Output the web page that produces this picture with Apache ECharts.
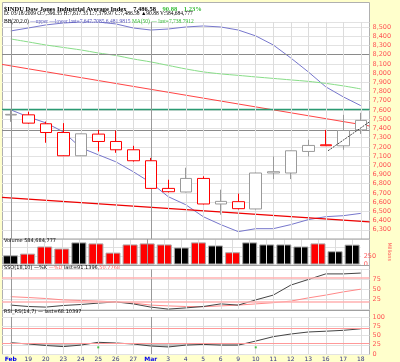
<!DOCTYPE html>
<html><head><meta charset="utf-8">
<script src="https://cdn.jsdelivr.net/npm/echarts@6.0.0/dist/echarts.min.js"></script>
<style>html,body{margin:0;padding:0;background:#ffffcc;}#c{width:400px;height:362px;}</style>
</head><body><div id="c"></div>
<script>
// ---------- data ----------
const dates = ['Feb','19','20','23','24','25','26','27','Mar','3','4','5','6','9','10','11','12','13','16','17','18'];
const monthLabels = ['Feb','Mar'];
const opens  = [7545,7547,7450,7355,7103,7338,7258,7168,7049,6749,6710,6857,6580,6605,6526,6916,6916,7150,7222,7211,7384];
const closes = [7552,7457,7355,7103,7341,7258,7168,7049,6749,6713,6857,6580,6608,6529,6916,6930,7157,7215,7212,7377,7487];
const lows   = [7471,7450,7244,7100,7100,7150,7135,7040,6745,6705,6705,6575,6464,6520,6520,6850,6850,7095,7208,7168,7340];
const highs  = [7601,7580,7474,7457,7345,7384,7377,7211,7080,6843,6973,6880,6735,6692,6920,7095,7160,7276,7384,7547,7569];
const prevClose0 = 7548;
const bbUpper = [8457,8489,8522,8543,8554,8554,8533,8489,8467,8478,8500,8511,8500,8467,8403,8305,8164,8013,7851,7742,7647];
const bbLower = [7601,7525,7460,7363,7190,7114,7038,6930,6811,6659,6572,6442,6356,6280,6312,6312,6356,6410,6442,6453,6478];
const ma50    = [8370,8338,8305,8278,8251,8218,8191,8153,8121,8083,8045,8013,7991,7975,7958,7942,7926,7910,7888,7861,7828];
const volume  = [270,320,530,470,650,620,350,590,620,590,500,650,560,360,650,590,590,530,620,390,584.3];
const ssoK = [11,7.5,6,10,12.5,16,19,14,6,1,4,7.5,14,11,24,36,61,75,89,89,91.1];
const ssoD = [32,30,27.5,24,22.5,21,19,16,11,9,7.5,7,9,11,14,17,21,29,36,44,50.8];
const rsi  = [30.5,27,23,20,24,31.6,29.7,27,21.6,19,24,26,24,24,35,46.8,54,59.5,61.6,64,68.1];
const rsiSignals = [[5,18],[14,18]];
const priceTicks = [6300,8500];
const hLinesGray = [8200,7385];
const hLineTeal = 7612;
const trendUpperRed = [[-0.5,8094],[20.5,7426]];
const trendLowerRed = [[-0.5,6652],[20.5,6385]];
const trendDark = [[18.13,7157],[20.5,7471]];
const lastClose = 7486.58, lastVolume = 584.3;

// ---------- chart ----------
const chart = echarts.init(document.getElementById('c'), null, {renderer:'canvas'});
const F = 'DejaVu Sans';
const RED = '#ff0000', GRAY = '#9a9a9a';
const L = 2, R = 30.5;
const grids = [
  {left:L, right:R, top:22, height:217},
  {left:L, right:R, top:239, height:25.5},
  {left:L, right:R, top:269.5, height:40},
  {left:L, right:R, top:317, height:37}
];
const candleData = dates.map((d,i)=>{
  const pc = i===0 ? prevClose0 : closes[i-1];
  const col = closes[i] >= pc ? GRAY : RED;
  return {value:[opens[i],closes[i],lows[i],highs[i]],
    itemStyle:{color:'#fff', color0:col, borderColor:col, borderColor0:col}};
});
const volData = volume.map((v,i)=>{
  const pc = i===0 ? prevClose0 : closes[i-1];
  const up = closes[i] >= pc;
  return {value:v, itemStyle:{color: up ? '#000' : RED, borderColor:'#aaa', borderWidth:1}};
});
function vLines(){
  return dates.map((d,i)=>({xAxis:i, lineStyle:{color: (monthLabels.includes(d)) ? '#999' : '#dcdcdc', width:1, type:'solid'}}));
}
const fmtNum = v => v.toLocaleString('en-US');
const catAxis = (g, show) => ({type:'category', gridIndex:g, data:dates, boundaryGap:true,
  axisLine:{show:false}, axisTick:{show:false}, splitLine:{show:false},
  axisLabel:{show:show, interval:0, margin:2, fontFamily:F, fontSize:6, color:'#333388',
    formatter: v => monthLabels.includes(v) ? '{m|'+v+'}' : v,
    rich:{m:{fontFamily:F, fontSize:6, color:'#0000ee', fontWeight:'bold'}}}});
const lblStyle = {fontFamily:F, fontSize:6.5, color:'#ff5555', margin:3};
const option = {
  animation:false,
  backgroundColor:'transparent',
  grid: grids,
  xAxis: [catAxis(0,false),catAxis(1,false),catAxis(2,false),catAxis(3,true),
    {type:'value', gridIndex:0, min:-0.5, max:20.5, show:false},
    {type:'value', gridIndex:1, min:-0.5, max:20.5, show:false}],
  yAxis: [
    {type:'value', gridIndex:0, position:'right', min:6200, max:8554, interval:100,
      axisLine:{show:false}, axisTick:{show:false},
      splitLine:{lineStyle:{color:'#e2e2e2'}},
      axisLabel:Object.assign({}, lblStyle, {formatter: v => (v>=priceTicks[0] && v<=priceTicks[1] && v%100===0) ? fmtNum(v) : ''})},
    {type:'value', gridIndex:1, position:'right', min:0, max:750, interval:250,
      axisLine:{show:false}, axisTick:{show:false}, splitLine:{lineStyle:{color:'#e2e2e2'}},
      name:'Millions', nameLocation:'middle', nameRotate:-90, nameGap:17,
      nameTextStyle:{fontFamily:F, fontSize:5, color:'#ff5555'},
      axisLabel:Object.assign({}, lblStyle, {formatter: v => (v===0||v===250) ? String(v) : ''})},
    {type:'value', gridIndex:2, position:'right', min:0, max:100, interval:25,
      axisLine:{show:false}, axisTick:{show:false}, splitLine:{lineStyle:{color:'#e2e2e2'}},
      axisLabel:Object.assign({}, lblStyle, {formatter: v => (v>0 && v<100) ? String(v) : ''})},
    {type:'value', gridIndex:3, position:'right', min:0, max:100, interval:25,
      axisLine:{show:false}, axisTick:{show:false}, splitLine:{lineStyle:{color:'#e2e2e2'}},
      axisLabel:Object.assign({}, lblStyle)}
  ],
  graphic:[
    {type:'rect', z:-10, shape:{x:2.5,y:2.5,width:367,height:352}, style:{fill:'#fff', stroke:'#b0b0b0', lineWidth:1}},
    {type:'line', z:100, shape:{x1:2.5,y1:239,x2:369.5,y2:239}, style:{stroke:'#a0a0a0', lineWidth:1}},
    {type:'line', z:100, shape:{x1:2.5,y1:265.5,x2:369.5,y2:265.5}, style:{stroke:'#a0a0a0', lineWidth:1}},
    {type:'line', z:100, shape:{x1:2.5,y1:310.5,x2:369.5,y2:310.5}, style:{stroke:'#a0a0a0', lineWidth:1}},
    {type:'text', z:100, x:4, y:3, style:{text:'{b|$INDU Dow Jones Industrial Average Index}  {b|7,486.58}  {g|90.88}  {g|1.23%}',
      rich:{b:{fontFamily:'Liberation Serif', fontWeight:'bold', fontSize:6.5, fill:'#000'}, g:{fontFamily:'Liberation Serif', fontWeight:'bold', fontSize:6.5, fill:'#33bb33'}}}},
    {type:'text', z:100, x:4, y:11, style:{text:'D: 03/18/2009 O:7,396.35 H:7,617.35 L:7,379.97 C:7,486.58 \u25B290.88 V:584,684,777', fontFamily:'Liberation Serif', fontSize:5.5, fill:'#000'}},
    {type:'text', z:100, x:4, y:18.5, style:{text:'BB(20,2.0) {bl|\u2014upper \u2014lower last=7,647.7085,6,481.9815} {gr|MA(50) \u2014 last=7,738.7912}',
      fontFamily:'Liberation Serif', fontSize:5.5, fill:'#000',
      rich:{bl:{fontFamily:'Liberation Serif', fontSize:5.5, fill:'#5555bb'}, gr:{fontFamily:'Liberation Serif', fontSize:5.5, fill:'#33bb33'}}}},
    {type:'text', z:100, x:4, y:238.5, style:{text:'Volume 584,684,777', fontFamily:F, fontSize:5, fill:'#000'}},
    {type:'text', z:100, x:4, y:265.5, style:{text:'SSO(18,10) \u2014%K {p|\u2014%D} last=91.1396,{p|50.7768}', fontFamily:F, fontSize:5, fill:'#000',
      rich:{p:{fontFamily:F, fontSize:5, fill:'#ff6666'}}}},
    {type:'text', z:100, x:4, y:309.5, style:{text:'RSI_RS(14,7) \u2014 last=68.10397', fontFamily:F, fontSize:5, fill:'#000'}}
  ],
  series:[
    {type:'candlestick', xAxisIndex:0, yAxisIndex:0, barWidth:12, data:candleData, z:5,
      markLine:{silent:true, symbol:'none', animation:false,
        data:[
          ...hLinesGray.map(v=>({yAxis:v, lineStyle:{color:'#8a8a8a', width:1, type:'solid'}, label:{show:false}})),
          {yAxis:hLineTeal, lineStyle:{color:'#2a9a72', width:1.3, type:'solid'}, label:{show:false}},
          {yAxis:lastClose, lineStyle:{opacity:0}, label:{show:true, position:'end', distance:1, formatter: fmtNum(lastClose),
             backgroundColor:'#000', color:'#fff', fontFamily:F, fontWeight:'bold', fontSize:6.5, padding:[1,2,1,2]}}
        ]}},
    {type:'line', xAxisIndex:0, yAxisIndex:0, data:bbLower, symbol:'none', z:3, lineStyle:{color:'#7777cc', width:1},
      markLine:{silent:true, symbol:'none', label:{show:false}, data:vLines()}},
    {type:'line', xAxisIndex:0, yAxisIndex:0, data:bbUpper, symbol:'none', z:3, lineStyle:{color:'#7777cc', width:1}},
    {type:'line', xAxisIndex:0, yAxisIndex:0, data:ma50, symbol:'none', z:3, smooth:0.3, lineStyle:{color:'#88dd88', width:1}},
    {type:'line', xAxisIndex:4, yAxisIndex:0, data:trendUpperRed, symbol:'none', z:4, lineStyle:{color:'#ff4444', width:1}},
    {type:'line', xAxisIndex:4, yAxisIndex:0, data:trendLowerRed, symbol:'none', z:4, lineStyle:{color:'#ee0000', width:1.2}},
    {type:'line', xAxisIndex:4, yAxisIndex:0, data:trendDark, symbol:'none', z:6, lineStyle:{color:'#444', width:1, type:[2,1]}},
    {type:'bar', xAxisIndex:1, yAxisIndex:1, barWidth:15, data:volData, z:3,
      markLine:{silent:true, symbol:'none', label:{show:false},
        data:[...vLines(), {yAxis:lastVolume, lineStyle:{opacity:0}, label:{show:true, position:'end', distance:1,
          formatter: lastVolume.toFixed(1)+' M', backgroundColor:'#000', color:'#fff', fontFamily:F, fontWeight:'bold', fontSize:6.5, padding:[1,3,1,2]}}]}},
    {type:'line', xAxisIndex:2, yAxisIndex:2, data:ssoD, symbol:'none', z:3, lineStyle:{color:'#ff8888', width:1},
      markLine:{silent:true, symbol:'none', label:{show:false},
        data:[...vLines(), {yAxis:80, lineStyle:{color:'#ffb0b0', width:1.5, type:'solid'}}, {yAxis:20, lineStyle:{color:'#ffb0b0', width:1.5, type:'solid'}}]}},
    {type:'line', xAxisIndex:2, yAxisIndex:2, data:ssoK, symbol:'none', z:4, lineStyle:{color:'#444', width:1}},
    {type:'line', xAxisIndex:3, yAxisIndex:3, data:rsi.map(v=>Math.min(v,30)), stack:'os', symbol:'none', lineStyle:{opacity:0}, z:2},
    {type:'line', xAxisIndex:3, yAxisIndex:3, data:rsi.map(v=>30-Math.min(v,30)), stack:'os', symbol:'none', lineStyle:{opacity:0}, areaStyle:{color:'#b8b8b8', opacity:0.8}, z:2},
    {type:'line', xAxisIndex:3, yAxisIndex:3, data:rsi, symbol:'none', z:4, lineStyle:{color:'#444', width:1},
      markLine:{silent:true, symbol:'none', label:{show:false},
        data:[...vLines(), {yAxis:70, lineStyle:{color:'#ff9999', width:1, type:'solid'}}, {yAxis:30, lineStyle:{color:'#ff9999', width:1, type:'solid'}}]}},
    {type:'scatter', xAxisIndex:3, yAxisIndex:3, data:rsiSignals, symbol:'rect', symbolSize:[2,2], itemStyle:{color:'#22bb22'}, z:5}
  ]
};
chart.setOption(option);
</script></body></html>
